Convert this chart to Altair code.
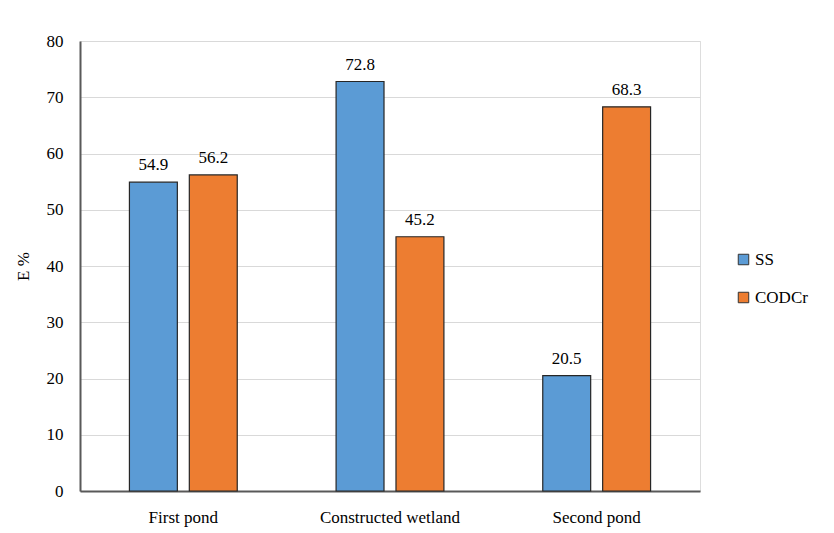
import altair as alt
import pandas as pd

sites = ["First pond", "Constructed wetland", "Second pond"]
ss_values = [54.9, 72.8, 20.5]
codcr_values = [56.2, 45.2, 68.3]
series = ["SS", "CODCr"]
colors = ["#5B9BD5", "#ED7D31"]

rows = []
for site, ss, cod in zip(sites, ss_values, codcr_values):
    rows.append({"site": site, "param": "SS", "value": ss})
    rows.append({"site": site, "param": "CODCr", "value": cod})
df = pd.DataFrame(rows)

FONT = "Liberation Serif"

x = alt.X("site:N", sort=sites, title=None,
          scale=alt.Scale(paddingInner=0, paddingOuter=0),
          axis=alt.Axis(labelAngle=0, labelFont=FONT, labelFontSize=17,
                        labelColor="#000000", labelPadding=18, ticks=False,
                        domainColor="#595959", domainWidth=2))
xo = alt.XOffset("param:N", sort=series,
                 scale=alt.Scale(paddingInner=0.2, paddingOuter=0.825))
y = alt.Y("value:Q", title="E %",
          scale=alt.Scale(domain=[0, 80], nice=False),
          axis=alt.Axis(values=list(range(0, 81, 10)), labelFont=FONT,
                        labelFontSize=17, labelColor="#000000", labelPadding=17,
                        ticks=False, domainColor="#595959", domainWidth=2,
                        gridColor="#d9d9d9", titleFont=FONT, titleFontSize=17,
                        titleFontWeight="normal", titleColor="#000000",
                        titlePadding=14))
color = alt.Color("param:N", sort=series,
                  scale=alt.Scale(domain=series, range=colors),
                  legend=alt.Legend(title=None, orient="none", legendX=655,
                                    legendY=210, symbolType="square",
                                    symbolSize=110, symbolStrokeColor="#333333",
                                    symbolStrokeWidth=1, labelFont=FONT,
                                    labelFontSize=17, labelColor="#000000",
                                    rowPadding=20, labelOffset=3))

bars = alt.Chart(df).mark_bar(stroke="#262626", strokeWidth=1.2).encode(
    x=x, xOffset=xo, y=y, color=color)

labels = alt.Chart(df).mark_text(baseline="bottom", dy=-8, font=FONT,
                                 fontSize=17, color="#000000").encode(
    x=alt.X("site:N", sort=sites), xOffset=xo, y="value:Q",
    text=alt.Text("value:Q", format=".1f"))

chart = alt.layer(bars, labels).properties(
    width=620, height=450,
    autosize=alt.AutoSizeParams(type="none"),
    padding={"left": 80, "top": 41, "right": 134, "bottom": 42},
).configure_view(stroke=None).configure(
    background="#ffffff", font=FONT,
    axis=alt.AxisConfig(labelFont=FONT, titleFont=FONT),
    legend=alt.LegendConfig(labelFont=FONT),
    text=alt.MarkConfig(font=FONT),
)

chart.save("out.html", embed_options={"renderer": "svg", "actions": False})
